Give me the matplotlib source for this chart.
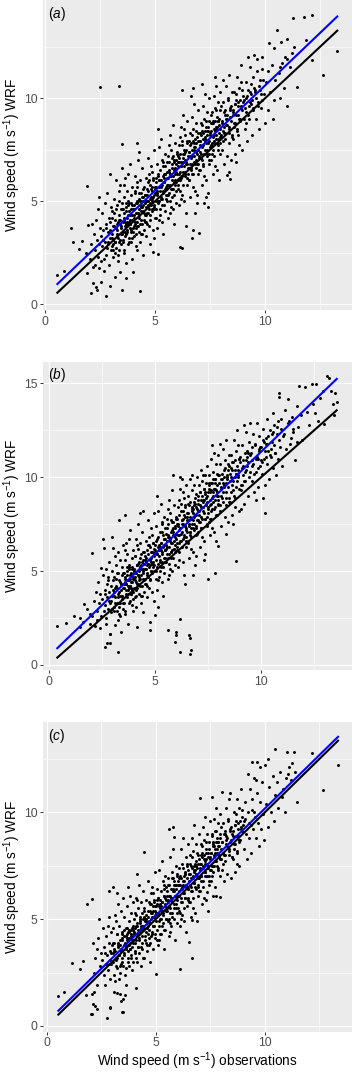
import matplotlib
matplotlib.use("Agg")
import matplotlib.pyplot as plt
import numpy as np

plt.rcParams['font.family'] = ['Liberation Sans', 'DejaVu Sans']
plt.rcParams['mathtext.fontset'] = 'custom'
plt.rcParams['mathtext.rm'] = 'Liberation Sans'
plt.rcParams['mathtext.it'] = 'Liberation Sans:italic'

# ---------------- data ----------------
pairs_a = [
(0.55,1.41),(0.84,1.62),(1.18,3.67),(1.26,3.0),(1.53,2.65),(1.65,3.07),(1.86,2.46),(1.9,1.52),(1.91,5.73),(1.94,3.83),
(2.09,0.52),(2.17,1.03),(2.32,0.84),(2.36,0.68),(2.44,1.73),(2.55,1.08),(2.77,0.39),(2.93,0.87),(3.15,1.29),(3.41,1.57),
(3.5,0.68),(3.65,1.25),(3.99,1.57),(4.32,0.65),(4.9,2.54),(5.12,2.43),(6.12,2.78),(6.2,2.7),(2.49,10.55),(3.36,10.58),
(3.47,7.77),(4.15,7.83),(7.41,4.69),(6.7,3.59),(7.0,3.46),(6.65,3.19),(8.24,6.28),(8.4,6.06),
(2.05,2.2),(2.1,2.9),(2.15,1.8),(2.2,3.4),(2.25,2.6),(2.3,4.1),(2.35,3.1),(2.4,2.3),(2.45,5.2),(2.48,3.7),(2.12,3.9),(2.28,1.9),(2.42,2.9),(2.38,4.6),
(2.52,3.3),(2.55,2.1),(2.58,4.4),(2.6,2.8),(2.63,3.6),(2.66,1.6),(2.7,4.9),(2.72,3.0),(2.75,2.4),(2.78,3.9),(2.8,5.4),(2.82,2.7),(2.85,3.5),(2.88,4.2),
(2.9,1.9),(2.93,3.2),(2.95,6.3),(2.97,4.7),(2.99,2.6),(2.62,3.1),(2.74,3.7),(2.86,2.9),(2.92,4.0),(2.68,2.2),
(3.02,3.4),(3.05,4.5),(3.07,2.3),(3.1,3.8),(3.12,5.1),(3.15,3.0),(3.17,4.1),(3.2,2.7),(3.22,6.0),(3.25,3.6),(3.27,4.8),(3.3,3.2),(3.32,2.1),(3.35,4.3),
(3.37,5.5),(3.4,3.9),(3.42,2.9),(3.45,4.6),(3.47,3.4),(3.49,6.6),(3.08,3.1),(3.14,4.4),(3.24,3.9),(3.33,5.0),(3.44,3.7),(3.18,2.5),(3.38,4.1),(3.28,3.3),
(3.48,4.9),(3.03,2.8),(3.36,2.6),(3.41,5.8),
(3.52,4.0),(3.54,3.1),(3.56,5.2),(3.58,4.4),(3.6,2.5),(3.62,3.8),(3.64,6.1),(3.66,4.7),(3.68,3.4),(3.7,5.5),(3.72,4.2),(3.74,2.9),(3.76,3.9),(3.78,5.0),
(3.8,4.5),(3.82,3.2),(3.84,6.8),(3.86,4.1),(3.88,3.6),(3.9,5.3),(3.92,4.8),(3.94,2.2),(3.96,4.3),(3.98,3.7),(3.55,4.6),(3.63,3.5),(3.71,4.0),(3.79,4.9),
(3.87,3.9),(3.95,5.7),(3.59,5.8),(3.67,2.0),(3.83,4.3),(3.91,3.0),(3.75,6.3),
(4.02,4.6),(4.04,3.3),(4.06,5.4),(4.08,4.0),(4.1,6.2),(4.12,2.8),(4.14,4.9),(4.16,3.8),(4.18,5.7),(4.2,4.4),(4.22,7.0),(4.24,3.5),(4.26,5.1),(4.28,4.2),
(4.3,6.0),(4.32,3.0),(4.34,4.7),(4.36,5.4),(4.38,3.9),(4.4,6.6),(4.42,4.5),(4.44,2.4),(4.46,5.0),(4.48,4.1),(4.05,4.3),(4.15,5.9),(4.25,4.6),(4.35,3.4),
(4.45,5.6),(4.11,3.7),(4.21,5.0),(4.31,4.8),(4.41,5.2),(4.49,3.6),(4.27,7.4),(4.17,2.6),
(4.52,5.3),(4.54,4.0),(4.56,6.1),(4.58,4.7),(4.6,3.3),(4.62,5.6),(4.64,4.4),(4.66,7.1),(4.68,5.0),(4.7,3.8),(4.72,6.3),(4.74,4.9),(4.76,5.8),(4.78,2.9),
(4.8,5.2),(4.82,6.7),(4.84,4.5),(4.86,5.5),(4.88,3.6),(4.9,6.0),(4.92,4.8),(4.94,7.5),(4.96,5.3),(4.98,4.2),(4.57,5.0),(4.67,5.9),(4.77,4.3),(4.87,6.4),
(4.97,5.7),(4.63,3.9),(4.83,5.1),(4.93,3.2),
(5.02,5.9),(5.04,4.6),(5.06,6.8),(5.08,5.4),(5.1,3.7),(5.12,6.2),(5.14,5.0),(5.16,7.6),(5.18,5.7),(5.2,4.3),(5.22,6.5),(5.24,5.2),(5.26,8.0),(5.28,6.0),
(5.3,4.8),(5.32,7.0),(5.34,5.5),(5.36,3.4),(5.38,6.3),(5.4,5.9),(5.42,7.3),(5.44,4.5),(5.46,6.7),(5.48,5.1),(5.05,6.1),(5.15,4.1),(5.25,5.8),(5.35,6.9),
(5.45,5.6),(5.11,8.5),(5.31,4.0),(5.41,6.1),
(5.52,6.4),(5.54,5.0),(5.56,7.2),(5.58,5.8),(5.6,4.2),(5.62,6.9),(5.64,5.4),(5.66,8.2),(5.68,6.2),(5.7,4.7),(5.72,7.5),(5.74,6.0),(5.76,5.2),(5.78,6.6),
(5.8,8.7),(5.82,5.6),(5.84,7.0),(5.86,3.9),(5.88,6.3),(5.9,7.8),(5.92,5.9),(5.94,6.8),(5.96,4.9),(5.98,7.3),(5.55,6.1),(5.65,4.4),(5.75,7.1),(5.85,6.5),
(5.95,5.5),(5.61,7.7),(5.81,4.6),(5.91,6.0),
(6.02,6.9),(6.04,5.6),(6.06,7.7),(6.08,6.3),(6.1,4.8),(6.12,7.3),(6.14,6.0),(6.16,8.6),(6.18,6.7),(6.2,5.3),(6.22,7.9),(6.24,6.4),(6.26,9.2),(6.28,7.1),
(6.3,5.0),(6.32,7.5),(6.34,6.2),(6.36,8.2),(6.38,4.4),(6.4,6.8),(6.42,7.8),(6.44,5.8),(6.46,8.9),(6.48,6.6),(6.05,7.2),(6.15,5.1),(6.25,6.9),(6.35,7.4),
(6.45,6.1),(6.21,10.4),(6.31,8.5),(6.41,3.8),(6.11,8.1),
(6.52,7.4),(6.54,6.0),(6.56,8.3),(6.58,6.8),(6.6,5.2),(6.62,7.8),(6.64,6.5),(6.66,9.1),(6.68,7.2),(6.7,5.7),(6.72,8.5),(6.74,6.9),(6.76,9.7),(6.78,7.6),
(6.8,5.5),(6.82,8.0),(6.84,6.6),(6.86,8.8),(6.88,4.9),(6.9,7.3),(6.92,8.3),(6.94,6.3),(6.96,9.4),(6.98,7.1),(6.55,7.9),(6.65,6.3),(6.75,7.5),(6.85,7.8),
(6.95,6.8),(6.61,10.1),(6.81,4.4),(6.71,10.5),(6.91,5.3),
(7.02,7.9),(7.04,6.5),(7.06,8.8),(7.08,7.3),(7.1,5.8),(7.12,8.4),(7.14,7.0),(7.16,9.6),(7.18,7.7),(7.2,6.2),(7.22,9.0),(7.24,7.5),(7.26,10.2),(7.28,8.1),
(7.3,6.0),(7.32,8.6),(7.34,7.2),(7.36,9.3),(7.38,5.4),(7.4,7.8),(7.42,8.9),(7.44,6.8),(7.46,10.0),(7.48,7.6),(7.05,8.3),(7.15,6.7),(7.25,8.0),(7.35,8.4),
(7.45,7.3),(7.11,10.7),(7.31,5.2),(7.21,4.9),
(7.52,8.4),(7.54,7.0),(7.56,9.3),(7.58,7.8),(7.6,6.3),(7.62,8.9),(7.64,7.5),(7.66,10.1),(7.68,8.2),(7.7,6.7),(7.72,9.5),(7.74,8.0),(7.76,10.6),(7.78,8.6),
(7.8,6.5),(7.82,9.1),(7.84,7.7),(7.86,9.8),(7.88,6.0),(7.9,8.3),(7.92,9.4),(7.94,7.3),(7.96,10.3),(7.98,8.1),(7.55,8.8),(7.65,7.2),(7.75,8.5),(7.85,8.9),
(7.95,7.8),(7.71,11.0),
(8.02,8.9),(8.05,7.5),(8.08,9.8),(8.1,8.3),(8.13,6.8),(8.16,9.4),(8.19,8.0),(8.22,10.6),(8.25,8.7),(8.28,7.2),(8.31,10.0),(8.34,8.5),(8.37,11.1),(8.4,9.1),
(8.43,7.0),(8.46,9.6),(8.49,8.2),(8.12,8.6),(8.24,9.2),(8.36,7.8),(8.48,10.3),(8.07,10.9),(8.33,6.4),
(8.52,9.4),(8.55,8.0),(8.58,10.3),(8.61,8.8),(8.64,7.3),(8.67,9.9),(8.7,8.5),(8.73,11.0),(8.76,9.2),(8.79,7.7),(8.82,10.5),(8.85,9.0),(8.88,11.6),(8.91,9.6),
(8.94,7.5),(8.97,10.1),(8.6,9.7),(8.75,8.2),(8.9,10.8),(8.66,6.9),
(9.02,9.9),(9.06,8.5),(9.1,10.8),(9.14,9.3),(9.18,7.9),(9.22,10.4),(9.26,9.0),(9.3,11.5),(9.34,9.7),(9.38,8.2),(9.42,11.0),(9.46,9.5),(9.48,12.1),(9.2,12.0),
(9.12,8.8),(9.36,10.2),
(9.52,10.4),(9.57,9.0),(9.62,11.3),(9.67,9.8),(9.72,8.5),(9.77,10.9),(9.82,9.5),(9.87,12.0),(9.92,10.2),(9.97,8.8),(9.6,11.9),(9.85,11.4),
(10.03,10.8),(10.1,9.4),(10.17,12.65),(10.22,10.3),(10.3,11.6),(10.36,9.0),(10.41,12.41),(10.45,10.9),(10.12,11.3),(10.38,9.9),
(10.55,13.3),(10.6,11.2),(10.66,10.0),(10.71,12.73),(10.78,11.7),(10.85,10.5),(10.9,12.0),(10.97,12.85),(10.97,9.61),(10.65,11.5),
(11.0,11.9),(11.1,11.5),(11.2,12.2),(11.27,13.87),(11.43,10.52),(11.76,13.95),(11.85,12.82),(12.11,14.03),(12.11,11.84),(12.62,11.1),
(13.27,12.3),(11.3,12.5),
]

# dense core of panel (a)
core_a = [
(2.85,3.0),(2.95,3.6),(3.05,3.2),(3.1,2.9),(3.2,3.7),(3.26,3.4),(3.31,4.0),(3.39,3.1),(3.46,3.8),(3.53,3.5),(3.57,4.2),(3.61,3.3),(3.65,4.5),(3.69,3.9),
(3.73,3.6),(3.77,4.3),(3.81,4.0),(3.85,3.7),(3.89,4.6),(3.93,4.1),(3.97,3.5),(4.01,4.2),(4.05,4.8),(4.09,3.9),(4.13,4.4),(4.17,4.9),(4.21,3.8),(4.25,4.3),
(4.29,5.0),(4.33,4.5),(4.37,4.1),(4.41,4.7),(4.45,5.2),(4.49,4.4),(4.53,4.9),(4.57,4.3),(4.61,5.3),(4.65,4.8),(4.69,5.5),(4.73,4.6),(4.77,5.1),(4.81,4.8),
(4.85,5.7),(4.89,5.2),(4.93,4.7),(4.97,5.4),(5.01,5.0),(5.05,5.7),(5.09,5.3),(5.13,4.9),(5.17,6.0),(5.21,5.5),(5.25,5.1),(5.29,5.8),(5.33,6.2),(5.37,5.4),
(5.41,5.9),(5.45,6.3),(5.49,5.7),(5.53,5.3),(5.57,6.1),(5.61,6.5),(5.65,5.8),(5.69,6.3),(5.73,5.6),(5.77,6.8),(5.81,6.2),(5.85,5.9),(5.89,6.6),(5.93,7.0),
(5.97,6.3),(6.01,6.0),(6.05,6.7),(6.09,7.1),(6.13,6.4),(6.17,6.9),(6.21,6.2),(6.25,7.3),(6.29,6.7),(6.33,6.4),(6.37,7.0),(6.41,7.5),(6.45,6.8),(6.49,7.2),
(6.53,6.6),(6.57,7.7),(6.61,7.1),(6.65,6.8),(6.69,7.5),(6.73,7.9),(6.77,7.2),(6.81,7.6),(6.85,7.0),(6.89,8.1),(6.93,7.5),(6.97,7.2),(7.01,7.9),(7.05,7.4),
(7.09,8.2),(7.13,7.6),(7.17,8.0),(7.21,7.3),(7.25,8.4),(7.29,7.8),(7.33,7.5),(7.37,8.2),(7.41,8.6),(7.45,7.9),(7.49,8.3),(7.53,7.7),(7.57,8.8),(7.61,8.1),
(7.65,7.9),(7.69,8.5),(7.73,8.9),(7.77,8.2),(7.81,8.6),(7.85,8.0),(7.89,9.0),(7.93,8.5),(7.97,8.2),(8.03,8.8),(8.09,8.4),(8.15,9.2),(8.21,8.7),(8.27,9.0),
(8.33,8.6),(8.39,9.5),(8.45,8.9),(8.51,9.3),(8.57,8.8),(8.63,9.7),(8.69,9.2),(8.75,9.6),(8.81,9.0),(8.87,9.9),(8.93,9.4),(8.99,9.8),(9.08,9.5),(9.16,10.1),
(9.24,9.6),(9.32,10.3),(9.4,9.9),(9.5,10.5),(9.58,10.0),(9.7,10.6),(9.8,10.2),(9.9,10.9),
(3.03,4.2),(3.08,2.6),(3.13,3.8),(3.19,3.0),(3.23,4.6),(3.29,2.4),(3.34,4.1),(3.36,3.0),(3.43,3.4),(3.47,4.6),(3.51,3.0),(3.56,4.1),(3.6,2.6),(3.63,4.0),
(3.67,4.9),(3.72,3.5),(3.76,4.8),(3.79,3.0),(3.83,3.9),(3.88,3.5),(3.91,4.9),(3.95,3.2),(3.99,4.6),(4.03,3.8),(4.07,5.5),(4.11,3.4),(4.15,5.0),(4.19,4.0),
(4.23,4.4),(4.27,5.4),(4.31,3.9),(4.35,5.0),(4.39,3.4),(4.43,4.8),(4.47,5.7),(4.51,4.3),(4.55,5.3),(4.59,4.0),(4.63,5.0),(4.67,4.4),(4.71,6.0),(4.75,4.1),
(4.79,5.6),(4.83,4.6),(4.87,5.0),(4.91,6.1),(4.95,4.6),(4.99,5.6),(5.03,4.2),(5.07,5.5),(5.11,6.3),(5.15,5.0),(5.19,6.0),(5.23,4.6),(5.27,5.7),(5.31,5.1),
(5.35,6.7),(5.39,4.8),(5.43,6.3),(5.47,5.3),(5.51,5.8),(5.55,6.9),(5.59,5.3),(5.63,6.4),(5.67,5.0),(5.71,6.2),(5.75,5.6),(5.79,7.2),(5.83,5.3),(5.87,6.9),
(5.91,5.8),(5.95,6.4),(5.99,7.4),(6.03,5.8),(6.07,6.9),(6.11,5.5),(6.15,6.7),(6.19,6.1),(6.23,7.7),(6.27,5.8),(6.31,7.3),(6.35,6.3),(6.39,6.9),(6.43,7.9),
(6.47,6.3),(6.51,7.4),(6.55,6.0),(6.59,7.2),(6.63,6.6),(6.67,8.2),(6.71,6.3),(6.75,7.8),(6.79,6.8),(6.83,7.4),(6.87,8.4),(6.91,6.8),(6.95,7.9),(6.99,6.5),
(7.03,7.7),(7.07,7.1),(7.11,8.7),(7.15,6.8),(7.19,8.3),(7.23,7.3),(7.27,7.9),(7.31,8.9),(7.35,7.3),(7.39,8.4),(7.43,7.0),(7.47,8.2),(7.51,7.6),(7.55,9.2),
(7.59,7.3),(7.63,8.8),(7.67,7.8),(7.71,8.4),(7.75,9.4),(7.79,7.8),(7.83,8.9),(7.87,7.5),(7.91,8.7),(7.95,8.1),(7.99,9.6),(8.06,7.9),(8.11,9.3),(8.17,8.3),
(8.23,9.0),(8.29,9.9),(8.35,8.3),(8.41,9.4),(8.47,8.1),(8.53,9.2),(8.59,8.6),(8.65,10.2),(8.71,8.4),(8.77,9.8),(8.83,8.9),(8.89,9.5),(8.95,10.4),(9.04,9.0),
(9.13,10.0),(9.21,9.2),(9.29,9.8),(9.37,10.7),(9.45,9.4),(9.55,10.3),(9.65,9.6),(9.75,10.4),(9.85,9.9),
]

pairs_b = [
(0.39,2.1),(0.8,2.25),(2.04,5.98),(2.56,6.7),(2.97,6.8),(3.32,7.72),(3.58,7.99),(4.29,8.08),(4.42,8.22),(2.72,1.19),
(2.87,1.15),(2.66,0.98),(2.88,1.65),(3.27,0.68),(5.63,1.86),(5.98,1.74),(5.99,1.6),(5.94,1.24),(6.18,0.71),(6.62,1.6),
(6.64,1.46),(6.68,0.8),(6.66,0.57),(6.18,2.43),(8.82,5.56),(7.99,6.34),(7.51,4.57),(7.83,4.89),(10.19,8.12),
(1.2,2.6),(1.45,2.0),(1.65,3.23),(1.48,2.49),(1.92,2.18),(1.6,2.3),(1.8,3.0),(1.95,2.7),
(2.05,2.6),(2.1,3.4),(2.15,2.1),(2.2,3.9),(2.25,2.9),(2.3,4.4),(2.35,3.3),(2.39,1.99),(2.42,3.8),(2.45,2.6),(2.47,5.15),(2.28,2.4),
(2.52,3.5),(2.55,4.8),(2.58,6.25),(2.6,2.9),(2.63,4.0),(2.65,3.2),(2.68,5.1),(2.7,2.5),(2.73,4.3),(2.75,3.6),(2.78,3.0),(2.8,4.7),(2.83,3.9),(2.85,5.5),
(2.86,1.63),(2.88,3.3),(2.9,4.2),(2.93,2.8),(2.95,5.0),(2.98,3.7),(2.62,3.8),(2.77,4.5),(2.92,3.4),(2.71,2.2),
(3.02,6.25),(3.03,4.0),(3.05,3.1),(3.08,4.7),(3.1,2.13),(3.12,3.6),(3.15,5.3),(3.17,4.2),(3.2,2.9),(3.22,4.9),(3.25,3.8),(3.27,6.0),(3.3,3.3),(3.32,4.5),
(3.35,2.6),(3.37,5.6),(3.4,4.0),(3.41,1.78),(3.43,3.5),(3.45,4.8),(3.47,3.0),(3.49,6.4),(3.07,3.9),(3.18,4.6),(3.28,3.1),(3.38,4.3),(3.48,4.1),(3.13,5.8),
(3.23,2.4),(3.44,5.2),(3.34,3.7),
(3.52,4.3),(3.54,3.3),(3.56,5.6),(3.58,4.7),(3.6,2.7),(3.62,4.0),(3.64,6.5),(3.66,5.0),(3.68,3.6),(3.7,5.9),(3.72,4.5),(3.73,2.17),(3.76,4.1),(3.78,5.3),
(3.8,4.8),(3.82,3.4),(3.84,7.2),(3.86,4.4),(3.88,3.8),(3.9,5.7),(3.92,5.1),(3.94,2.9),(3.96,4.6),(3.98,3.9),(3.55,4.9),(3.63,3.7),(3.71,4.2),(3.79,5.2),
(3.87,4.1),(3.95,6.1),(3.59,6.1),(3.83,4.6),(3.91,3.2),(3.75,6.7),
(4.02,5.0),(4.04,3.6),(4.06,5.8),(4.08,4.4),(4.1,6.7),(4.12,3.1),(4.15,2.04),(4.14,5.3),(4.16,4.1),(4.18,6.2),(4.2,4.8),(4.22,7.5),(4.24,3.8),(4.26,5.5),
(4.28,4.6),(4.3,6.5),(4.32,3.3),(4.34,5.1),(4.36,5.9),(4.38,4.2),(4.4,7.1),(4.42,4.9),(4.44,2.8),(4.46,5.4),(4.48,4.5),(4.05,4.7),(4.15,6.4),(4.25,5.0),
(4.35,3.7),(4.45,6.0),(4.11,4.0),(4.21,5.4),(4.31,5.2),(4.41,5.6),(4.49,3.9),
(4.52,5.8),(4.54,4.3),(4.56,6.6),(4.58,5.1),(4.6,3.6),(4.62,6.1),(4.64,4.8),(4.66,7.7),(4.68,5.4),(4.7,4.1),(4.72,6.8),(4.74,5.3),(4.76,6.3),(4.75,1.86),
(4.78,2.27),(4.8,5.7),(4.82,7.3),(4.84,4.9),(4.86,6.0),(4.88,3.9),(4.9,6.5),(4.92,5.2),(4.94,8.1),(4.96,5.8),(4.98,2.66),(4.57,5.5),(4.67,6.4),(4.77,4.6),
(4.87,6.9),(4.97,6.2),(4.63,4.2),(4.83,5.5),(4.93,3.4),
(5.02,6.4),(5.04,5.0),(5.06,7.4),(5.08,5.9),(5.1,4.0),(5.12,6.8),(5.14,3.1),(5.16,8.2),(5.18,6.2),(5.2,4.7),(5.22,7.1),(5.24,5.6),(5.26,8.6),(5.28,6.5),
(5.3,5.2),(5.32,7.6),(5.34,6.0),(5.36,3.7),(5.38,6.9),(5.4,6.4),(5.42,7.9),(5.44,4.9),(5.46,7.3),(5.48,5.5),(5.05,6.6),(5.15,4.5),(5.25,6.3),(5.35,7.5),
(5.45,6.1),(5.11,9.0),(5.31,4.4),(5.41,6.7),
(5.52,7.0),(5.54,5.5),(5.56,7.8),(5.58,6.3),(5.6,4.6),(5.62,7.5),(5.64,5.9),(5.66,8.8),(5.68,6.8),(5.7,5.1),(5.72,8.1),(5.74,6.5),(5.76,5.7),(5.78,7.2),
(5.8,9.3),(5.82,6.1),(5.84,7.6),(5.86,10.12),(5.88,6.9),(5.9,8.5),(5.92,6.4),(5.94,7.4),(5.96,5.3),(5.98,7.9),(5.55,6.6),(5.65,4.8),(5.75,7.7),(5.85,7.1),
(5.95,6.0),(5.61,8.3),(5.81,5.0),(5.91,6.6),
(6.02,7.5),(6.04,6.1),(6.06,8.4),(6.08,6.9),(6.1,5.2),(6.12,8.0),(6.14,6.5),(6.16,9.4),(6.18,7.3),(6.2,10.04),(6.22,8.6),(6.24,7.0),(6.26,9.9),(6.28,7.7),
(6.3,5.5),(6.32,8.2),(6.34,6.7),(6.36,8.9),(6.38,4.8),(6.4,7.4),(6.42,8.5),(6.44,6.3),(6.46,9.6),(6.48,7.2),(6.05,7.8),(6.15,5.6),(6.25,7.5),(6.35,8.0),
(6.45,6.6),(6.31,9.2),(6.41,4.3),(6.11,8.8),
(6.52,8.1),(6.54,6.6),(6.56,9.0),(6.58,7.4),(6.6,5.7),(6.62,8.5),(6.64,7.1),(6.66,9.9),(6.68,7.8),(6.7,6.2),(6.72,9.3),(6.74,7.5),(6.76,10.1),(6.78,8.3),
(6.8,6.0),(6.82,8.7),(6.84,7.2),(6.86,9.6),(6.88,5.3),(6.9,8.0),(6.92,9.1),(6.94,6.9),(6.96,10.0),(6.98,7.7),(6.55,8.6),(6.65,6.9),(6.75,8.2),(6.85,8.5),
(6.95,7.4),(6.81,4.8),(6.91,5.8),
(7.02,8.6),(7.04,7.1),(7.06,9.6),(7.08,8.0),(7.1,6.3),(7.12,9.2),(7.14,7.6),(7.16,10.4),(7.18,8.4),(7.2,6.8),(7.22,9.8),(7.24,8.2),(7.26,10.1),(7.28,8.8),
(7.3,6.6),(7.32,9.4),(7.34,7.8),(7.36,10.1),(7.38,5.9),(7.4,8.5),(7.42,9.7),(7.44,7.4),(7.46,10.6),(7.48,8.3),(7.05,9.0),(7.15,7.3),(7.25,8.7),(7.35,9.1),
(7.45,7.9),(7.31,5.6),
(7.52,9.2),(7.54,7.6),(7.56,10.1),(7.58,8.5),(7.6,6.9),(7.62,9.7),(7.64,8.2),(7.66,11.0),(7.68,8.9),(7.7,7.3),(7.72,10.3),(7.74,8.7),(7.76,11.3),(7.78,9.4),
(7.8,7.1),(7.82,9.9),(7.84,8.4),(7.86,10.7),(7.88,6.6),(7.9,9.0),(7.92,10.2),(7.94,8.0),(7.96,11.2),(7.98,8.8),(7.55,9.6),(7.65,7.8),(7.75,9.2),(7.85,9.7),
(7.95,8.5),(7.71,11.7),
(8.02,9.7),(8.05,8.2),(8.08,10.7),(8.1,9.0),(8.13,7.4),(8.16,10.2),(8.19,8.7),(8.22,11.5),(8.25,9.5),(8.28,7.9),(8.31,10.9),(8.34,9.2),(8.37,12.0),(8.4,9.9),
(8.43,7.6),(8.46,10.4),(8.49,8.9),(8.12,9.4),(8.24,10.0),(8.36,8.5),(8.48,11.2),(8.07,11.8),(8.33,7.0),(8.2,9.7),(8.44,10.7),
(8.52,10.2),(8.55,8.7),(8.58,11.2),(8.61,9.6),(8.64,8.0),(8.67,10.8),(8.7,9.3),(8.73,12.0),(8.76,10.0),(8.79,8.4),(8.82,11.4),(8.85,9.8),(8.88,12.5),(8.91,10.4),
(8.94,8.2),(8.97,11.0),(8.6,10.5),(8.75,8.9),(8.9,11.7),(8.66,7.5),(8.8,10.2),(8.95,9.4),
(9.02,10.8),(9.06,9.3),(9.1,11.7),(9.14,10.1),(9.18,8.6),(9.22,11.3),(9.26,9.8),(9.3,12.4),(9.34,10.6),(9.38,9.0),(9.42,11.9),(9.46,10.3),(9.48,12.9),(9.2,12.8),
(9.12,9.6),(9.36,11.1),(9.04,8.3),(9.28,10.9),
(9.52,11.3),(9.55,9.8),(9.6,12.3),(9.64,10.7),(9.68,9.2),(9.72,11.8),(9.76,10.3),(9.8,12.9),(9.84,11.0),(9.88,9.5),(9.92,12.2),(9.96,10.6),(9.58,11.6),(9.78,8.8),
(9.9,11.4),
(10.02,11.6),(10.06,10.2),(10.1,12.6),(10.14,11.0),(10.18,9.6),(10.22,12.1),(10.26,10.7),(10.3,13.1),(10.34,11.4),(10.38,9.9),(10.42,12.5),(10.46,11.1),(10.08,8.9),(10.25,11.8),
(10.55,13.44),(10.52,11.9),(10.58,10.5),(10.62,12.8),(10.66,11.3),(10.7,10.1),(10.74,12.3),(10.78,11.0),(10.82,13.0),(10.86,14.5),(10.87,14.3),(10.9,11.6),(10.95,12.6),(10.98,10.6),
(11.05,12.2),(11.12,13.6),(11.18,11.5),(11.25,12.9),(11.29,14.16),(11.37,11.8),(11.45,13.2),(11.52,12.4),(11.6,10.9),(11.68,13.8),(11.75,12.7),(11.8,14.86),(11.88,13.3),(11.95,12.0),
(11.4,12.1),(11.7,11.9),
(12.08,14.81),(12.15,13.5),(12.25,12.8),(12.39,14.95),(12.45,13.9),(12.6,14.95),(12.7,13.0),(12.8,14.2),(12.97,12.82),(13.1,15.4),(13.2,15.3),(13.3,14.6),(13.4,13.9),(13.5,14.5),
(13.57,14.03),(13.45,13.3),(12.55,13.4),(12.9,14.6),
]

core_b = [
(2.85,3.4),(2.95,3.0),(3.05,3.7),(3.1,3.3),(3.2,4.1),(3.26,3.6),(3.31,3.9),(3.39,4.3),(3.46,3.7),(3.53,4.1),(3.57,4.6),(3.61,3.8),(3.65,4.3),(3.69,4.8),
(3.73,4.0),(3.77,4.5),(3.81,4.2),(3.85,4.9),(3.89,4.4),(3.93,4.0),(3.97,4.7),(4.01,5.1),(4.05,4.5),(4.09,4.9),(4.13,4.3),(4.17,5.3),(4.21,4.8),(4.25,4.5),
(4.29,5.2),(4.33,4.8),(4.37,5.5),(4.41,5.0),(4.45,4.6),(4.49,5.4),(4.53,5.1),(4.57,5.7),(4.61,4.9),(4.65,5.4),(4.69,5.9),(4.73,5.2),(4.77,5.6),(4.81,5.0),
(4.85,6.0),(4.89,5.5),(4.93,5.9),(4.97,5.3),(5.01,6.1),(5.05,5.6),(5.09,5.2),(5.13,6.3),(5.17,5.8),(5.21,6.1),(5.25,5.5),(5.29,6.5),(5.33,5.9),(5.37,6.3),
(5.41,5.7),(5.45,6.7),(5.49,6.1),(5.53,6.4),(5.57,5.9),(5.61,6.9),(5.65,6.3),(5.69,6.7),(5.73,6.0),(5.77,7.1),(5.81,6.5),(5.85,6.9),(5.89,6.2),(5.93,7.3),
(5.97,6.7),(6.01,7.0),(6.05,6.5),(6.09,7.5),(6.13,6.9),(6.17,7.3),(6.21,6.6),(6.25,7.7),(6.29,7.1),(6.33,7.5),(6.37,6.9),(6.41,7.9),(6.45,7.3),(6.49,7.7),
(6.53,7.1),(6.57,8.1),(6.61,7.5),(6.65,7.9),(6.69,7.3),(6.73,8.4),(6.77,7.7),(6.81,8.1),(6.85,7.5),(6.89,8.6),(6.93,8.0),(6.97,8.3),(7.01,7.7),(7.05,8.8),
(7.09,8.2),(7.13,8.5),(7.17,7.9),(7.21,9.0),(7.25,8.4),(7.29,8.8),(7.33,8.1),(7.37,9.2),(7.41,8.6),(7.45,9.0),(7.49,8.4),(7.53,9.4),(7.57,8.8),(7.61,9.2),
(7.65,8.6),(7.69,9.7),(7.73,9.0),(7.77,9.4),(7.81,8.8),(7.85,9.9),(7.89,9.3),(7.93,9.6),(7.97,9.0),(8.03,10.1),(8.09,9.5),(8.15,9.9),(8.21,9.2),(8.27,10.4),
(8.33,9.7),(8.39,10.1),(8.45,9.5),(8.51,10.6),(8.57,10.0),(8.63,10.4),(8.69,9.8),(8.75,10.9),(8.81,10.2),(8.87,10.6),(8.93,10.0),(8.99,11.1),(9.08,10.5),(9.16,10.9),
(9.24,10.3),(9.32,11.4),(9.4,10.8),(9.5,11.2),(9.58,10.6),(9.7,11.7),(9.8,11.1),(9.9,11.5),(10.0,10.9),(10.1,12.0),(10.2,11.4),(10.3,11.8),(10.4,11.2),(10.5,12.3),
(10.6,11.7),
(3.03,4.5),(3.08,2.9),(3.13,4.1),(3.19,3.3),(3.23,4.9),(3.29,2.7),(3.34,4.4),(3.36,3.3),(3.43,3.7),(3.47,4.9),(3.51,3.3),(3.56,4.4),(3.6,2.9),(3.63,4.3),
(3.67,5.2),(3.72,3.8),(3.76,5.1),(3.79,3.3),(3.83,4.2),(3.88,3.8),(3.91,5.2),(3.95,3.5),(3.99,4.9),(4.03,4.1),(4.07,5.8),(4.11,3.7),(4.15,5.3),(4.19,4.3),
(4.23,4.7),(4.27,5.7),(4.31,4.2),(4.35,5.3),(4.39,3.7),(4.43,5.1),(4.47,6.0),(4.51,4.6),(4.55,5.6),(4.59,4.3),(4.63,5.3),(4.67,4.7),(4.71,6.4),(4.75,4.5),
(4.79,6.0),(4.83,5.0),(4.87,5.4),(4.91,6.5),(4.95,5.0),(4.99,6.0),(5.03,4.6),(5.07,5.9),(5.11,6.7),(5.15,5.4),(5.19,6.4),(5.23,5.0),(5.27,6.1),(5.31,5.5),
(5.35,7.1),(5.39,5.2),(5.43,6.7),(5.47,5.7),(5.51,6.2),(5.55,7.3),(5.59,5.7),(5.63,6.8),(5.67,5.4),(5.71,6.6),(5.75,6.0),(5.79,7.6),(5.83,5.7),(5.87,7.3),
(5.91,6.2),(5.95,6.8),(5.99,7.8),(6.03,6.3),(6.07,7.4),(6.11,6.0),(6.15,7.2),(6.19,6.6),(6.23,8.2),(6.27,6.3),(6.31,7.8),(6.35,6.8),(6.39,7.4),(6.43,8.4),
(6.47,6.8),(6.51,7.9),(6.55,6.5),(6.59,7.7),(6.63,7.1),(6.67,8.7),(6.71,6.8),(6.75,8.3),(6.79,7.3),(6.83,7.9),(6.87,8.9),(6.91,7.3),(6.95,8.4),(6.99,7.0),
(7.03,8.2),(7.07,7.6),(7.11,9.2),(7.15,7.3),(7.19,8.8),(7.23,7.8),(7.27,8.4),(7.31,9.4),(7.35,7.8),(7.39,8.9),(7.43,7.5),(7.47,8.7),(7.51,8.1),(7.55,9.7),
(7.59,7.8),(7.63,9.3),(7.67,8.3),(7.71,8.9),(7.75,9.9),(7.79,8.3),(7.83,9.4),(7.87,8.0),(7.91,9.2),(7.95,8.6),(7.99,10.1),(8.06,8.5),(8.11,9.9),(8.17,8.9),
(8.23,9.6),(8.29,10.5),(8.35,8.9),(8.41,10.0),(8.47,8.7),(8.53,9.8),(8.59,9.2),(8.65,10.8),(8.71,9.0),(8.77,10.4),(8.83,9.5),(8.89,10.1),(8.95,11.0),(9.04,9.6),
(9.13,10.6),(9.21,9.8),(9.29,10.4),(9.37,11.3),(9.45,10.0),(9.55,10.9),(9.65,10.2),(9.75,11.0),(9.85,10.5),(9.95,11.6),(10.05,10.8),(10.15,11.9),(10.25,11.1),(10.35,12.2),
(10.45,11.5),(10.55,12.4),(10.65,11.3),(10.75,12.7),(10.85,12.0),(10.95,13.1),(11.1,12.3),(11.3,13.0),(11.5,12.6),
]

pairs_c = [
(0.53,1.4),(0.79,1.61),(1.15,2.96),(1.5,2.65),(1.65,3.06),(1.86,5.69),(2.06,5.94),(2.02,0.56),(2.29,0.78),(2.75,0.39),
(2.9,0.9),(3.49,0.67),(3.36,1.5),(3.2,1.55),(3.4,1.15),(5.01,2.43),(6.11,2.67),(6.65,3.2),(6.54,3.95),(6.65,4.95),
(7.34,6.25),(7.77,6.08),(7.92,6.05),(8.74,7.58),(13.35,12.21),(12.66,11.04),(11.47,10.5),(12.16,12.76),(11.31,12.81),(11.01,12.83),
(10.47,12.95),(10.16,12.5),(9.78,12.13),(9.4,12.37),(9.63,12.37),(10.0,12.2),(7.03,10.65),(7.57,10.73),(8.03,10.96),(8.4,10.9),
(4.13,7.11),(2.83,6.33),(3.03,6.5),(4.46,8.13),(5.81,8.86),(5.58,9.2),(5.78,9.3),
(2.12,1.01),(2.2,0.95),(2.05,0.55),(2.89,0.86),(3.47,0.64),(3.5,1.26),(1.82,1.45),(2.09,1.48),(2.66,1.92),(3.12,2.1),
(3.07,1.6),(4.11,1.79),
(2.12,3.87),(2.35,4.1),(2.4,4.99),(2.15,2.5),(2.22,3.2),(2.3,1.9),(2.45,2.8),(2.28,3.6),(2.48,3.4),(2.18,1.6),
(2.52,3.1),(2.58,4.6),(2.6,2.4),(2.63,3.7),(2.7,2.9),(2.73,4.2),(2.76,3.3),(2.8,2.6),(2.83,3.9),(2.86,5.1),(2.88,2.2),(2.9,3.5),(2.93,4.4),(2.96,2.9),
(2.98,3.8),(2.68,3.4),(2.79,4.7),(2.91,3.1),
(3.02,3.4),(3.05,4.6),(3.1,3.9),(3.14,5.2),(3.17,3.1),(3.2,4.3),(3.22,2.7),(3.25,3.7),(3.27,5.7),(3.3,3.3),(3.32,4.7),(3.35,2.5),(3.37,4.0),(3.4,5.4),
(3.42,3.5),(3.45,4.4),(3.47,3.0),(3.49,6.0),(3.08,3.6),(3.18,4.9),(3.28,3.9),(3.38,2.9),(3.44,4.1),(3.24,6.2),
(3.52,4.2),(3.54,3.3),(3.56,5.1),(3.58,1.45),(3.6,3.8),(3.62,4.6),(3.64,2.7),(3.65,1.92),(3.66,4.0),(3.68,5.6),(3.7,3.5),(3.72,4.4),(3.74,3.0),(3.76,4.9),
(3.78,4.1),(3.8,3.6),(3.82,6.1),(3.84,4.5),(3.86,3.3),(3.88,5.3),(3.9,4.0),(3.92,2.6),(3.94,4.7),(3.96,3.9),(3.98,5.0),(3.55,4.5),(3.69,4.3),(3.79,3.8),
(3.87,4.3),(3.95,5.8),(3.73,6.5),
(4.02,4.4),(4.04,3.4),(4.06,5.3),(4.08,4.0),(4.1,6.0),(4.12,3.0),(4.14,4.8),(4.16,3.7),(4.18,5.5),(4.2,4.3),(4.22,6.6),(4.24,3.4),(4.26,5.0),(4.28,4.5),
(4.3,5.8),(4.32,2.8),(4.34,4.6),(4.36,5.3),(4.38,3.9),(4.4,6.3),(4.42,4.7),(4.44,3.2),(4.46,5.1),(4.48,4.2),(4.05,4.6),(4.15,5.9),(4.25,4.8),(4.35,3.6),
(4.45,5.5),
(4.52,5.0),(4.54,3.9),(4.56,5.9),(4.58,4.6),(4.6,3.5),(4.62,5.4),(4.64,4.3),(4.66,6.8),(4.68,4.9),(4.7,3.8),(4.72,3.01),(4.74,4.8),(4.76,5.7),(4.78,6.2),
(4.8,5.1),(4.82,6.5),(4.84,4.4),(4.86,5.4),(4.88,3.6),(4.9,5.9),(4.92,4.7),(4.94,7.2),(4.96,5.2),(4.98,4.1),(4.57,4.9),(4.67,5.8),(4.77,4.2),(4.87,6.2),
(4.97,5.6),
(5.02,5.6),(5.04,4.5),(5.06,6.4),(5.08,5.2),(5.1,3.8),(5.12,6.0),(5.14,4.9),(5.16,7.3),(5.18,5.5),(5.2,4.3),(5.22,6.3),(5.24,5.0),(5.26,7.7),(5.28,5.8),
(5.3,4.7),(5.32,6.8),(5.34,5.3),(5.36,3.6),(5.38,6.1),(5.4,5.7),(5.42,7.0),(5.44,4.5),(5.46,6.5),(5.48,5.0),(5.05,5.9),(5.15,4.0),(5.25,5.6),(5.35,6.6),
(5.45,5.4),
(5.52,6.1),(5.54,4.9),(5.56,6.9),(5.58,5.6),(5.6,4.2),(5.62,6.6),(5.64,5.3),(5.66,7.9),(5.68,6.0),(5.7,4.7),(5.72,7.2),(5.74,5.8),(5.76,5.1),(5.78,6.4),
(5.8,8.3),(5.82,5.5),(5.84,6.8),(5.86,4.0),(5.88,6.1),(5.9,7.5),(5.92,5.7),(5.94,6.6),(5.96,4.8),(5.98,7.0),(5.55,5.9),(5.65,4.4),(5.75,6.9),(5.85,6.3),
(5.95,5.3),
(6.02,6.6),(6.04,5.4),(6.06,7.4),(6.08,6.1),(6.1,4.7),(6.12,7.0),(6.14,5.8),(6.16,8.3),(6.18,6.4),(6.2,5.2),(6.22,7.6),(6.24,6.2),(6.26,8.8),(6.28,6.8),
(6.3,4.9),(6.32,7.2),(6.34,6.0),(6.36,7.9),(6.38,4.4),(6.4,6.5),(6.42,7.5),(6.44,5.6),(6.46,8.5),(6.48,6.4),(6.05,6.9),(6.15,5.0),(6.25,6.6),(6.35,7.1),
(6.45,5.9),
(6.52,7.1),(6.54,5.8),(6.56,8.0),(6.58,6.6),(6.6,5.1),(6.62,7.5),(6.64,6.3),(6.66,8.8),(6.68,6.9),(6.7,5.5),(6.72,8.2),(6.74,6.7),(6.76,9.4),(6.78,7.3),
(6.8,5.3),(6.82,7.7),(6.84,6.4),(6.86,8.5),(6.88,4.9),(6.9,7.0),(6.92,8.0),(6.94,6.1),(6.96,9.0),(6.98,6.9),(6.55,7.6),(6.75,7.2),(6.85,7.5),(6.95,6.6),
(7.02,7.6),(7.04,6.3),(7.06,8.5),(7.08,7.0),(7.1,5.7),(7.12,8.1),(7.14,6.8),(7.16,9.3),(7.18,7.4),(7.2,6.0),(7.22,8.7),(7.24,7.2),(7.26,9.8),(7.28,7.8),
(7.3,5.9),(7.32,8.3),(7.34,7.0),(7.36,9.0),(7.38,5.4),(7.4,7.5),(7.42,8.6),(7.44,6.6),(7.46,9.6),(7.48,7.3),(7.05,8.0),(7.25,7.7),(7.45,7.0),
(7.52,8.1),(7.54,6.8),(7.56,9.0),(7.58,7.5),(7.6,6.1),(7.62,8.6),(7.64,7.2),(7.66,9.7),(7.68,7.9),(7.7,6.5),(7.72,9.1),(7.74,7.7),(7.76,10.2),(7.78,8.3),
(7.82,8.8),(7.84,7.4),(7.86,9.5),(7.9,8.0),(7.92,9.0),(7.94,7.0),(7.96,9.9),(7.98,7.8),(7.65,8.4),(7.85,8.6),
(8.02,8.6),(8.05,7.3),(8.08,9.5),(8.1,8.0),(8.13,6.8),(8.16,9.1),(8.19,7.7),(8.22,10.2),(8.25,8.4),(8.28,7.1),(8.31,9.7),(8.34,8.2),(8.37,10.6),(8.43,6.9),
(8.46,9.3),(8.49,7.9),(8.2,8.9),(8.42,8.6),
(8.52,9.1),(8.55,7.8),(8.58,10.0),(8.61,8.5),(8.64,7.2),(8.67,9.6),(8.7,8.2),(8.73,10.6),(8.76,8.9),(8.79,7.5),(8.82,10.2),(8.85,8.7),(8.88,11.1),(8.91,9.3),
(8.97,9.8),(8.62,9.4),
(9.02,9.6),(9.06,8.3),(9.1,10.5),(9.14,9.0),(9.18,7.8),(9.22,10.0),(9.26,8.8),(9.3,11.1),(9.34,9.4),(9.38,8.1),(9.42,10.6),(9.46,9.2),(9.48,11.6),(9.2,11.8),
(9.52,10.0),(9.57,8.8),(9.62,10.9),(9.67,9.5),(9.72,8.4),(9.77,10.5),(9.82,9.2),(9.87,11.4),(9.92,9.9),(9.97,8.7),(9.6,11.5),
(10.05,10.4),(10.12,9.3),(10.2,11.2),(10.28,10.0),(10.35,11.7),(10.42,9.6),(10.48,10.8),
(10.55,11.4),(10.62,10.2),(10.7,11.9),(10.78,10.7),(10.85,11.1),(10.92,10.0),(10.98,11.6),
(11.05,11.8),(11.12,12.1),(11.2,11.5),(11.25,12.3),(11.4,11.9),
]

core_c = [
(2.85,2.9),(2.95,3.4),(3.05,3.0),(3.1,3.5),(3.2,3.2),(3.26,3.8),(3.31,3.3),(3.39,3.6),(3.46,4.0),(3.53,3.4),(3.57,3.9),(3.61,4.2),(3.65,3.6),(3.69,4.1),
(3.73,3.8),(3.77,4.4),(3.81,3.9),(3.85,4.2),(3.89,3.7),(3.93,4.5),(3.97,4.0),(4.01,4.3),(4.05,3.9),(4.09,4.7),(4.13,4.2),(4.17,4.5),(4.21,4.0),(4.25,4.9),
(4.29,4.4),(4.33,4.7),(4.37,4.2),(4.41,5.0),(4.45,4.6),(4.49,4.9),(4.53,4.4),(4.57,5.2),(4.61,4.8),(4.65,5.1),(4.69,4.5),(4.73,5.4),(4.77,5.0),(4.81,5.3),
(4.85,4.7),(4.89,5.6),(4.93,5.1),(4.97,5.4),(5.01,4.9),(5.05,5.7),(5.09,5.3),(5.13,5.6),(5.17,5.0),(5.21,5.9),(5.25,5.4),(5.29,5.8),(5.33,5.2),(5.37,6.1),
(5.41,5.6),(5.45,5.9),(5.49,5.4),(5.53,6.3),(5.57,5.8),(5.61,6.1),(5.65,5.5),(5.69,6.4),(5.73,6.0),(5.77,6.3),(5.81,5.7),(5.85,6.6),(5.89,6.1),(5.93,6.4),
(5.97,5.9),(6.01,6.8),(6.05,6.3),(6.09,6.6),(6.13,6.0),(6.17,6.9),(6.21,6.5),(6.25,6.8),(6.29,6.2),(6.33,7.1),(6.37,6.6),(6.41,6.9),(6.45,6.4),(6.49,7.3),
(6.53,6.8),(6.57,7.1),(6.61,6.5),(6.65,7.4),(6.69,7.0),(6.73,7.3),(6.77,6.7),(6.81,7.6),(6.85,7.1),(6.89,7.4),(6.93,6.9),(6.97,7.8),(7.01,7.3),(7.05,7.6),
(7.09,7.0),(7.13,7.9),(7.17,7.5),(7.21,7.8),(7.25,7.2),(7.29,8.1),(7.33,7.6),(7.37,7.9),(7.41,7.4),(7.45,8.3),(7.49,7.8),(7.53,8.1),(7.57,7.5),(7.61,8.4),
(7.65,8.0),(7.69,8.3),(7.73,7.7),(7.77,8.6),(7.81,8.1),(7.85,8.4),(7.89,7.9),(7.93,8.8),(7.97,8.3),(8.03,8.6),(8.09,8.1),(8.15,9.0),(8.21,8.5),(8.27,8.8),
(8.33,8.3),(8.39,9.2),(8.45,8.7),(8.51,9.0),(8.57,8.5),(8.63,9.4),(8.69,8.9),(8.75,9.2),(8.81,8.7),(8.87,9.6),(8.93,9.1),(8.99,9.4),(9.1,9.7),(9.25,9.5),
(9.4,10.1),(9.55,9.8),
(3.03,3.9),(3.08,2.4),(3.13,3.5),(3.19,2.8),(3.23,4.3),(3.29,2.2),(3.34,3.8),(3.36,2.8),(3.43,3.2),(3.47,4.3),(3.51,2.8),(3.56,3.8),(3.6,2.4),(3.63,3.7),
(3.67,4.6),(3.72,3.2),(3.76,4.5),(3.79,2.8),(3.83,3.6),(3.88,3.2),(3.91,4.6),(3.95,3.0),(3.99,4.3),(4.03,3.5),(4.07,5.2),(4.11,3.2),(4.15,4.7),(4.19,3.7),
(4.23,4.1),(4.27,5.1),(4.31,3.7),(4.35,4.7),(4.39,3.2),(4.43,4.5),(4.47,5.4),(4.51,4.0),(4.55,5.0),(4.59,3.8),(4.63,4.7),(4.67,4.1),(4.71,5.7),(4.75,3.9),
(4.79,5.3),(4.83,4.3),(4.87,4.7),(4.91,5.8),(4.95,4.3),(4.99,5.3),(5.03,4.0),(5.07,5.2),(5.11,6.0),(5.15,4.7),(5.19,5.7),(5.23,4.3),(5.27,5.4),(5.31,4.8),
(5.35,6.4),(5.39,4.5),(5.43,6.0),(5.47,5.0),(5.51,5.5),(5.55,6.6),(5.59,5.0),(5.63,6.1),(5.67,4.8),(5.71,5.9),(5.75,5.3),(5.79,6.9),(5.83,5.0),(5.87,6.6),
(5.91,5.5),(5.95,6.1),(5.99,7.1),(6.03,5.5),(6.07,6.6),(6.11,5.3),(6.15,6.4),(6.19,5.8),(6.23,7.4),(6.27,5.5),(6.31,7.0),(6.35,6.0),(6.39,6.6),(6.43,7.6),
(6.47,6.0),(6.51,7.1),(6.55,5.8),(6.59,6.9),(6.63,6.3),(6.67,7.9),(6.71,6.0),(6.75,7.5),(6.79,6.5),(6.83,7.1),(6.87,8.1),(6.91,6.5),(6.95,7.6),(6.99,6.3),
(7.03,7.4),(7.07,6.8),(7.11,8.4),(7.15,6.5),(7.19,8.0),(7.23,7.0),(7.27,7.6),(7.31,8.6),(7.35,7.0),(7.39,8.1),(7.43,6.8),(7.47,7.9),(7.51,7.3),(7.55,8.9),
(7.59,7.0),(7.63,8.5),(7.67,7.5),(7.71,8.1),(7.75,9.1),(7.79,7.5),(7.83,8.6),(7.87,7.3),(7.91,8.4),(7.95,7.8),(7.99,9.3),(8.06,7.6),(8.11,9.0),(8.17,8.0),
(8.23,8.7),(8.29,9.6),(8.35,8.0),(8.41,9.1),(8.47,7.9),(8.53,8.9),(8.59,8.3),(8.65,9.9),(8.71,8.1),(8.77,9.5),(8.83,8.6),(8.89,9.2),(8.95,10.1),
]

# fitted regression lines (slope, intercept)
fit_a = (1.021, 0.41)
fit_b = (1.089, 0.465)
fit_c = (1.000, 0.18)

panel_tags = ['a', 'b', 'c']
x_ticks = [0, 5, 10]
y_ticks = [[0, 5, 10], [0, 5, 10, 15], [0, 5, 10]]
minor_x = [2.5, 7.5, 12.5]
minor_y = [[2.5, 7.5, 12.5], [2.5, 7.5, 12.5], [2.5, 7.5, 12.5]]
xlims = [(-0.09, 13.94), (-0.27, 14.29), (-0.16, 13.99)]
ylims = [(-0.29, 14.76), (-0.27, 16.16), (-0.27, 14.21)]

ylabel = 'Wind speed (m s$^{-1}$) WRF'
xlabel = 'Wind speed (m s$^{-1}$) observations'

# ---------------- layout ----------------
W, H = 352, 1072
fig = plt.figure(figsize=(W / 100, H / 100), dpi=100)

boxes = [(43.3, 0.0, 352, 310.0), (43.3, 361.7, 352, 670.0), (43.3, 722.3, 352, 1031.7)]

all_pairs = [pairs_a + core_a, pairs_b + core_b, pairs_c + core_c]
fits = [fit_a, fit_b, fit_c]

for i in range(3):
    l, t, r, b = boxes[i]
    ax = fig.add_axes([l / W, 1 - b / H, (r - l) / W, (b - t) / H])
    ax.set_facecolor('#EBEBEB')
    for s in ax.spines.values():
        s.set_visible(False)
    ax.set_xlim(*xlims[i])
    ax.set_ylim(*ylims[i])
    ax.set_xticks(x_ticks)
    ax.set_yticks(y_ticks[i])
    ax.set_xticks(minor_x, minor=True)
    ax.set_yticks(minor_y[i], minor=True)
    ax.grid(which='major', color='white', linewidth=0.85)
    ax.grid(which='minor', color='white', linewidth=0.45)
    ax.set_axisbelow(True)
    ax.tick_params(which='major', length=2.3, width=0.7, color='#333333',
                   labelsize=8.8, labelcolor='#4D4D4D', pad=1.8)
    ax.tick_params(which='minor', length=0)

    obs = np.array([p[0] for p in all_pairs[i]])
    wrf = np.array([p[1] for p in all_pairs[i]])
    ax.scatter(obs, wrf, s=4.6, c='black', linewidths=0, zorder=2)

    xr = np.array([obs.min(), obs.max()])
    ax.plot(xr, xr, color='black', linewidth=1.5, zorder=3)
    slope, icpt = fits[i]
    ax.plot(xr, slope * xr + icpt, color='#0000FF', linewidth=1.5, zorder=4)

    ax.text(0.015, 0.985, '($' + panel_tags[i] + '$)', transform=ax.transAxes,
            ha='left', va='top', fontsize=9.8, color='black')

    fig.text(12 / W, 1 - (t + b) / 2 / H, ylabel, rotation=90, ha='center',
             va='center', fontsize=9.8, color='black')

fig.text(197 / W, 1 - 1061.5 / H, xlabel, ha='center', va='center',
         fontsize=9.8, color='black')

fig.savefig('out.png', dpi=100)
